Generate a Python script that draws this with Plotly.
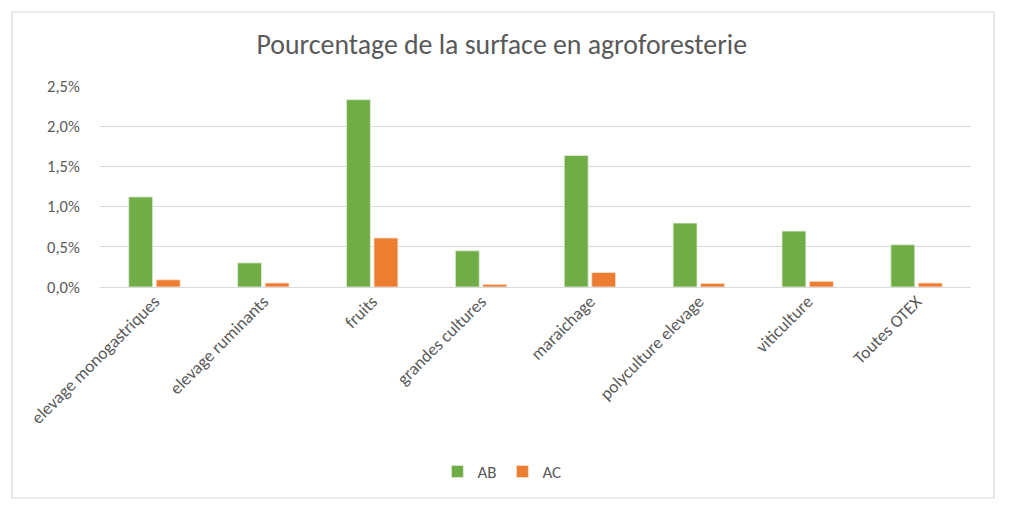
import plotly.graph_objects as go

categories = ["elevage monogastriques", "elevage ruminants", "fruits", "grandes cultures",
              "maraichage", "polyculture elevage", "viticulture", "Toutes OTEX"]
ab_values = [1.12, 0.30, 2.33, 0.45, 1.635, 0.795, 0.695, 0.525]   # percent
ac_values = [0.09, 0.05, 0.61, 0.033, 0.18, 0.045, 0.07, 0.05]     # percent
y_ticks = [0, 0.5, 1.0, 1.5, 2.0, 2.5]                            # percent

FONT = "Calibri, Carlito, 'Open Sans', sans-serif"
GREY = "#595959"

fig = go.Figure()
fig.add_trace(go.Bar(name="AB", x=categories, y=[v / 100 for v in ab_values],
                     marker=dict(color="#70AD47", line=dict(color="#E2EFDA", width=0.8))))
fig.add_trace(go.Bar(name="AC", x=categories, y=[v / 100 for v in ac_values],
                     marker=dict(color="#ED7D31", line=dict(color="#FBE5D6", width=0.8))))

W, H = 1024, 508
ml, mr, mt, mb = 100, 53, 86, 221
pw, ph = W - ml - mr, H - mt - mb

fig.update_layout(
    width=W, height=H,
    margin=dict(l=ml, r=mr, t=mt, b=mb),
    paper_bgcolor="white", plot_bgcolor="white",
    separators=", ",
    barmode="group", bargap=0.495, bargroupgap=0.13,
    font=dict(family=FONT, color=GREY, size=14),
    title=dict(text="Pourcentage de la surface en agroforesterie",
               x=0.49, xanchor="center", y=0.912, yanchor="middle",
               font=dict(size=27.8, color=GREY, family=FONT)),
    legend=dict(orientation="h", x=0.462, xanchor="center", y=-0.92, yanchor="middle",
                font=dict(size=17, color=GREY), itemwidth=30, traceorder="normal",
                entrywidth=20, entrywidthmode="pixels"),
    xaxis=dict(tickangle=-45, showgrid=False, showline=False, ticks="",
               tickfont=dict(size=17.5, color=GREY)),
    yaxis=dict(range=[0, 0.025], tickvals=[t / 100 for t in y_ticks], tickformat=".1%",
               showgrid=True, gridcolor="#D9D9D9", gridwidth=1.2,
               zeroline=True, zerolinecolor="#D9D9D9", zerolinewidth=1.2,
               showline=False, ticks="outside", ticklen=16, tickcolor="rgba(0,0,0,0)",
               tickfont=dict(size=16.5, color=GREY)),
)

# chart frame
fig.add_shape(type="rect", xref="paper", yref="paper",
              x0=(12 - ml) / pw, x1=(994 - ml) / pw,
              y0=(H - mb - 498) / ph, y1=(H - mb - 12) / ph,
              line=dict(color="#D9D9D9", width=1.2), fillcolor="rgba(0,0,0,0)", layer="below")

fig.write_html("out.html", config={"displayModeBar": False},
               post_script="document.body.style.margin='0';")
